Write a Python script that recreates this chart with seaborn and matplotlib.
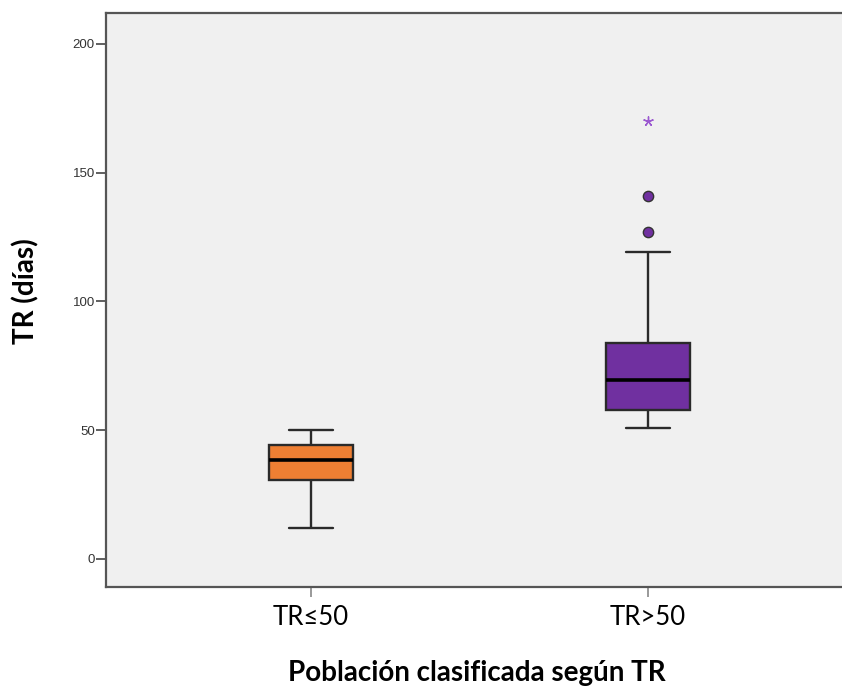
import matplotlib
matplotlib.use("Agg")
import matplotlib.pyplot as plt
import seaborn as sns
import pandas as pd

# Groups and their box statistics (días)
categories = ["TR≤50", "TR>50"]
whisker_low = [12, 51]
q1 = [30.6, 58]
median = [38.4, 69.3]
q3 = [44.2, 84]
whisker_high = [50, 119]
# Outliers: mild (circles) and extreme (star)
mild_outliers = {"TR>50": [127, 141]}
extreme_outliers = {"TR>50": [170]}

box_colors = ["#EE7F33", "#7030A0"]
yticks = [0, 50, 100, 150, 200]

rows = []
for i, cat in enumerate(categories):
    for v in (whisker_low[i], q1[i], median[i], q3[i], whisker_high[i]):
        rows.append({"grupo": cat, "TR": v})
df = pd.DataFrame(rows)

mild_df = pd.DataFrame([{"grupo": c, "TR": v} for c, vs in mild_outliers.items() for v in vs])
ext_df = pd.DataFrame([{"grupo": c, "TR": v} for c, vs in extreme_outliers.items() for v in vs])

sns.set_theme(style="ticks")
plt.rcParams["font.family"] = ["Liberation Sans", "DejaVu Sans"]

fig = plt.figure(figsize=(8.42, 6.88), dpi=100)
ax = fig.add_axes([106 / 842, 1 - 587 / 688, 736 / 842, 574 / 688])
ax.set_facecolor("#F0F0F0")

sns.boxplot(
    data=df, x="grupo", y="TR", hue="grupo", order=categories, hue_order=categories,
    palette=box_colors, width=0.25, whis=1.5, showfliers=False, saturation=1,
    linecolor="#2a2a2a", linewidth=1.7,
    medianprops={"color": "black", "linewidth": 2.6},
    capwidths=0.13,
    legend=False, ax=ax,
)

sns.scatterplot(
    data=mild_df, x="grupo", y="TR", ax=ax, color="#7030A0",
    edgecolor="#333333", linewidth=1.0, s=55, marker="o", zorder=5, legend=False,
)
sns.scatterplot(
    data=ext_df, x="grupo", y="TR", ax=ax, color="#9B59D0",
    marker=(5, 2, 0), s=45, linewidth=1.0, zorder=5, legend=False,
)

ax.set_xlim(-0.608, 1.576)
ax.set_ylim(-10.9, 212)
ax.set_yticks(yticks)
ax.set_yticklabels([str(t) for t in yticks], fontsize=9.5, color="#333333",
                   family=["Liberation Sans", "DejaVu Sans"])
ax.set_xticks(range(len(categories)))
ax.set_xticklabels(categories, fontsize=18.5, color="black",
                   family=["Lato", "DejaVu Sans"])

ax.tick_params(axis="y", length=7, width=1.2, color="#444444", pad=1)
ax.tick_params(axis="x", length=7, width=1.2, color="#888888", pad=6)

for side in ("left", "bottom", "top"):
    ax.spines[side].set_visible(True)
    ax.spines[side].set_color("#555555")
    ax.spines[side].set_linewidth(1.6)
ax.spines["right"].set_visible(False)

ax.set_xlabel("Población clasificada según TR", fontsize=20, fontweight="bold",
              color="black", family=["Lato", "DejaVu Sans"])
ax.set_ylabel("TR (días)", fontsize=20, fontweight="bold",
              color="black", family=["Lato", "DejaVu Sans"])
ax.xaxis.set_label_coords(0.504, -0.150)
ax.yaxis.set_label_coords(-0.109, 0.516)
ax.xaxis.label.set_verticalalignment("center")
ax.yaxis.label.set_verticalalignment("center")

fig.savefig("out.png", dpi=100, facecolor="white")
